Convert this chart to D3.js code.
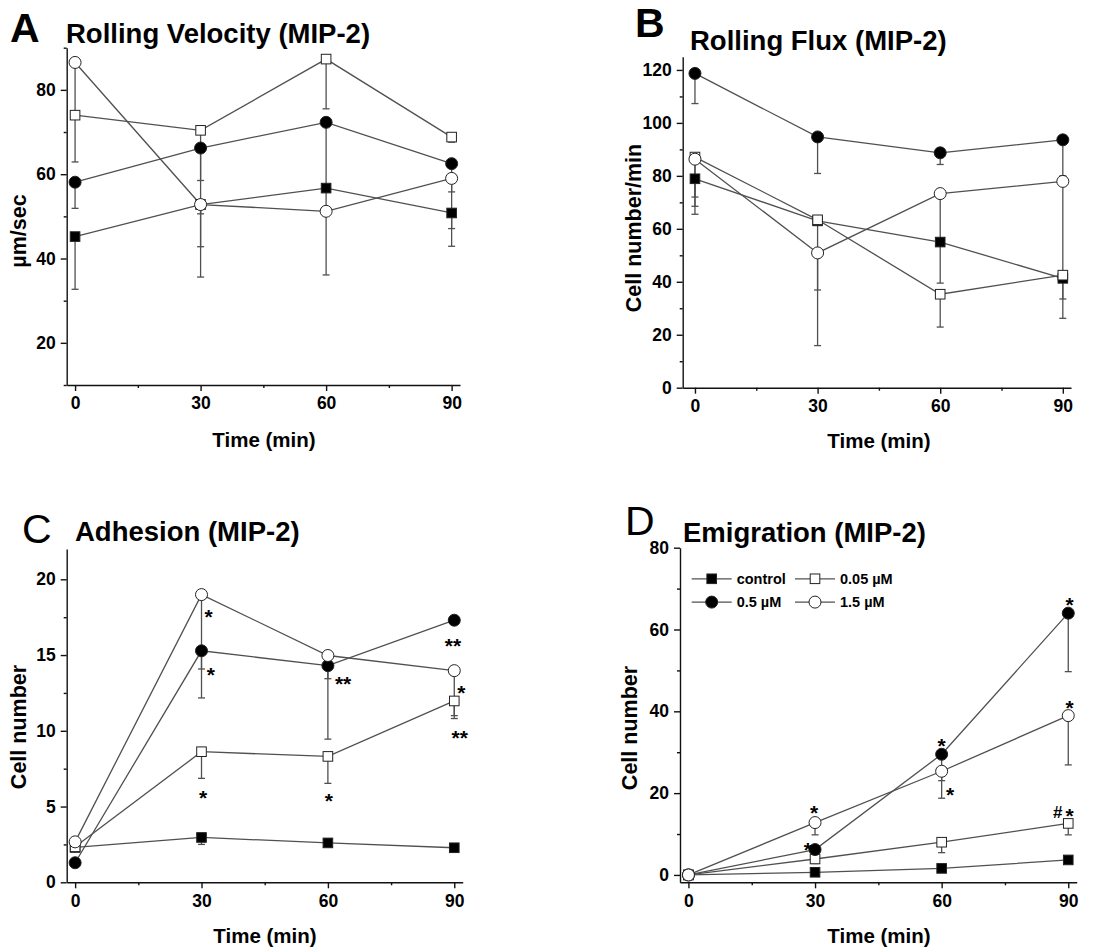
<!DOCTYPE html>
<html>
<head>
<meta charset="utf-8">
<script src="https://cdn.jsdelivr.net/npm/d3@7"></script>
<style>
  body { margin: 0; background: #fff; }
  svg text { font-family: "Liberation Sans", Arial, Helvetica, sans-serif; }
</style>
</head>
<body>
<svg id="fig" width="1110" height="951"></svg>
<script>
// ---- data -------------------------------------------------------------
const times = [0, 30, 60, 90];
const seriesNames = ["control", "0.05 µM", "0.5 µM", "1.5 µM"];
const seriesSymbols = ["filledSquare", "openSquare", "filledCircle", "openCircle"];

// A: rolling velocity (µm/sec); *Lo = lower end of the error bar
const velControl = [45.2, 52.8, 56.7, 50.8];
const velLow     = [74.0, 70.4, 87.3, 68.8];
const velMid     = [58.1, 66.2, 72.3, 62.5];
const velHigh    = [86.5, 52.8, 51.2, 59.0];
const velControlLo = [32.7, 50.6, null, 42.9];
const velLowLo     = [null, 58.5, 75.5, 67.6];
const velMidLo     = [51.9, 42.8, 36.1, 55.8];
const velHighLo    = [62.9, 35.6, null, 47.1];

// B: rolling flux (cells/min)
const fluxControl = [78.9, 63.0, 55.0, 41.3];
const fluxLow     = [87.1, 63.4, 35.3, 42.5];
const fluxMid     = [118.7, 94.7, 88.7, 93.6];
const fluxHigh    = [86.3, 50.9, 73.3, 77.9];
const fluxControlLo = [68.5, null, null, null];
const fluxLowLo     = [72.0, 36.9, 22.9, 33.5];
const fluxMidLo     = [107.3, 80.9, 84.3, 80.0];
const fluxHighLo    = [65.5, 15.9, 39.5, 26.2];

// C: adherent cells
const adhControl = [2.30, 2.96, 2.60, 2.28];
const adhLow     = [2.34, 8.62, 8.31, 11.97];
const adhMid     = [1.29, 15.28, 14.30, 17.30];
const adhHigh    = [2.67, 18.99, 14.97, 13.97];
const adhControlLo = [null, 2.5, null, null];
const adhLowLo     = [null, 6.86, 6.53, 10.81];
const adhMidLo     = [null, 12.17, 9.45, null];
const adhHighLo    = [null, 14.08, 13.44, 11.0];

// D: emigrated cells
const emiControl = [0, 0.65, 1.6, 3.67];
const emiLow     = [0, 3.9, 8.0, 12.6];
const emiMid     = [0, 6.2, 29.5, 64.0];
const emiHigh    = [0, 12.8, 25.35, 38.95];
const emiControlLo = [null, null, null, null];
const emiLowLo     = [null, 2.8, 5.45, 9.8];
const emiMidLo     = [null, null, 23.05, 49.7];
const emiHighLo    = [null, 9.8, 18.75, 26.9];

// significance marks (placed in data units)
const adhMarks = [
  { t: 31.7, v: 17.8, s: "*" }, { t: 32.2, v: 13.97, s: "*" }, { t: 30.4, v: 5.86, s: "*" },
  { t: 63.6, v: 13.38, s: "**" }, { t: 60.2, v: 5.70, s: "*" },
  { t: 89.7, v: 15.94, s: "**" }, { t: 91.7, v: 12.83, s: "*" }, { t: 91.3, v: 9.87, s: "**" }
];
const emiMarks = [
  { t: 29.8, v: 16.3, s: "*" }, { t: 28.3, v: 7.3, s: "*" },
  { t: 60.0, v: 32.6, s: "*" }, { t: 62.0, v: 20.8, s: "*" },
  { t: 90.3, v: 67.2, s: "*" }, { t: 90.3, v: 42.0, s: "*" },
  { t: 87.5, v: 15.5, s: "#" }, { t: 90.3, v: 15.5, s: "*" }
];

// tick values
const xTicks = [0, 30, 60, 90];
const xMinor = [15, 45, 75];
const velTicks = [20, 40, 60, 80];
const velMinor = [10, 30, 50, 70, 90];
const fluxTicks = [0, 20, 40, 60, 80, 100, 120];
const fluxMinor = [10, 30, 50, 70, 90, 110];
const adhTicks = [0, 5, 10, 15, 20];
const adhMinor = [2.5, 7.5, 12.5, 17.5];
const emiTicks = [0, 20, 40, 60, 80];
const emiMinor = [10, 30, 50, 70];

// ---- drawing ----------------------------------------------------------
const svg = d3.select("#fig");
const LINE = "#505050";
const INK = "#111";

const panels = [
  {
    letter: "A", letterBold: true, letterPos: [10, 42],
    title: "Rolling Velocity (MIP-2)", titlePos: [66, 43],
    ylabel: "µm/sec", ylabelPos: [26, 231], xlabelPos: [264, 447],
    box: { l: 66.7, r: 460, t: 47.7, b: 385 },
    xDomain: [-2, 92], yDomain: [10, 90], yTicks: velTicks, yMinor: velMinor,
    values: [velControl, velLow, velMid, velHigh],
    lows: [velControlLo, velLowLo, velMidLo, velHighLo]
  },
  {
    letter: "B", letterBold: true, letterPos: [635, 37],
    title: "Rolling Flux (MIP-2)", titlePos: [690, 50],
    ylabel: "Cell number/min", ylabelPos: [641, 228], xlabelPos: [879, 448],
    box: { l: 682.7, r: 1071, t: 56.7, b: 387.7 },
    xDomain: [-3, 92], yDomain: [0, 125], yTicks: fluxTicks, yMinor: fluxMinor,
    values: [fluxControl, fluxLow, fluxMid, fluxHigh],
    lows: [fluxControlLo, fluxLowLo, fluxMidLo, fluxHighLo]
  },
  {
    letter: "C", letterBold: false, letterPos: [22, 543],
    title: "Adhesion (MIP-2)", titlePos: [75, 541],
    ylabel: "Cell number", ylabelPos: [26, 727], xlabelPos: [265, 943],
    box: { l: 66.7, r: 462.7, t: 549, b: 882.3 },
    xDomain: [-2, 92], yDomain: [0, 22], yTicks: adhTicks, yMinor: adhMinor,
    values: [adhControl, adhLow, adhMid, adhHigh],
    lows: [adhControlLo, adhLowLo, adhMidLo, adhHighLo],
    marks: adhMarks
  },
  {
    letter: "D", letterBold: false, letterPos: [625, 535],
    title: "Emigration (MIP-2)", titlePos: [683, 542],
    ylabel: "Cell number", ylabelPos: [637, 728], xlabelPos: [879, 943],
    box: { l: 680, r: 1076.7, t: 547.7, b: 882.3 },
    xDomain: [-2, 92], yDomain: [-1.8, 80], yTicks: emiTicks, yMinor: emiMinor,
    values: [emiControl, emiLow, emiMid, emiHigh],
    lows: [emiControlLo, emiLowLo, emiMidLo, emiHighLo],
    marks: emiMarks, legend: true
  }
];

function drawSymbol(g, kind, cx, cy) {
  const filled = kind.startsWith("filled");
  if (kind.endsWith("Square")) {
    const s = 9.6;
    g.append("rect").attr("x", cx - s / 2).attr("y", cy - s / 2)
      .attr("width", s).attr("height", s)
      .attr("fill", filled ? "#000" : "#fff").attr("stroke", "#222").attr("stroke-width", 1);
  } else {
    g.append("circle").attr("cx", cx).attr("cy", cy).attr("r", 6)
      .attr("fill", filled ? "#000" : "#fff").attr("stroke", "#222").attr("stroke-width", 1);
  }
}

panels.forEach(p => {
  const x = d3.scaleLinear().domain(p.xDomain).range([p.box.l, p.box.r]);
  const y = d3.scaleLinear().domain(p.yDomain).range([p.box.b, p.box.t]);
  const g = svg.append("g");

  // axes
  const xAxis = g.append("g").attr("transform", `translate(0,${p.box.b})`)
    .call(d3.axisBottom(x).tickValues(xTicks).tickSize(6).tickSizeOuter(0).tickPadding(6));
  const xMin = g.append("g").attr("transform", `translate(0,${p.box.b})`)
    .call(d3.axisBottom(x).tickValues(xMinor).tickSize(3).tickSizeOuter(0).tickFormat(""));
  const yAxis = g.append("g").attr("transform", `translate(${p.box.l},0)`)
    .call(d3.axisLeft(y).tickValues(p.yTicks).tickSize(6).tickSizeOuter(0).tickPadding(5));
  const yMin = g.append("g").attr("transform", `translate(${p.box.l},0)`)
    .call(d3.axisLeft(y).tickValues(p.yMinor).tickSize(3).tickSizeOuter(0).tickFormat(""));
  [xMin, yMin].forEach(a => a.select(".domain").remove());
  [xAxis, xMin, yAxis, yMin].forEach(a => {
    a.selectAll("path,line").attr("stroke", INK).attr("stroke-width", 1.4);
    a.selectAll("text").attr("font-size", 17.5).attr("font-weight", "bold").attr("fill", "#000")
      .attr("font-family", '"Liberation Sans", Arial, sans-serif');
  });

  // lines
  const line = d3.line().x((d, i) => x(times[i])).y(d => y(d));
  p.values.forEach(vals => {
    g.append("path").attr("d", line(vals)).attr("fill", "none")
      .attr("stroke", LINE).attr("stroke-width", 1.3);
  });

  // error bars (lower side)
  p.values.forEach((vals, si) => {
    vals.forEach((v, i) => {
      const lo = p.lows[si][i];
      if (lo == null) return;
      const cx = x(times[i]);
      g.append("line").attr("x1", cx).attr("x2", cx).attr("y1", y(v)).attr("y2", y(lo))
        .attr("stroke", LINE).attr("stroke-width", 1.3);
      g.append("line").attr("x1", cx - 3.5).attr("x2", cx + 3.5).attr("y1", y(lo)).attr("y2", y(lo))
        .attr("stroke", LINE).attr("stroke-width", 1.3);
    });
  });

  // markers
  p.values.forEach((vals, si) => {
    vals.forEach((v, i) => drawSymbol(g, seriesSymbols[si], x(times[i]), y(v)));
  });

  // significance marks
  (p.marks || []).forEach(m => {
    const fs = m.s === "#" ? 17 : 21;
    const shift = m.s === "#" ? 0.36 : 0.56;
    g.append("text").attr("x", x(m.t)).attr("y", y(m.v) + shift * fs)
      .attr("text-anchor", "middle").attr("font-size", fs).attr("font-weight", "bold")
      .text(m.s);
  });

  // panel letter and title
  g.append("text").attr("x", p.letterPos[0]).attr("y", p.letterPos[1])
    .attr("font-size", 41).attr("font-weight", p.letterBold ? "bold" : "normal").text(p.letter);
  g.append("text").attr("x", p.titlePos[0]).attr("y", p.titlePos[1])
    .attr("font-size", 27.5).attr("font-weight", "bold").text(p.title);

  // axis titles
  g.append("text").attr("x", p.xlabelPos[0]).attr("y", p.xlabelPos[1])
    .attr("text-anchor", "middle").attr("font-size", 20.5).attr("font-weight", "bold").text("Time (min)");
  g.append("text").attr("transform", `translate(${p.ylabelPos[0]},${p.ylabelPos[1]}) rotate(-90)`)
    .attr("text-anchor", "middle").attr("font-size", 21.5).attr("font-weight", "bold").text(p.ylabel);

  // legend
  if (p.legend) {
    const rows = [[0, 1], [2, 3]];
    const colX = [p.box.l + 11.7, p.box.l + 115];
    const rowY = [y(72.4), y(66.7)];
    rows.forEach((r, ri) => r.forEach((si, ci) => {
      const x0 = colX[ci], yy = rowY[ri];
      const lg = g.append("g");
      lg.append("line").attr("x1", x0).attr("x2", x0 + 40).attr("y1", yy).attr("y2", yy)
        .attr("stroke", LINE).attr("stroke-width", 1.3);
      drawSymbol(lg, seriesSymbols[si], x0 + 20, yy);
      lg.append("text").attr("x", x0 + 45).attr("y", yy + 5.2)
        .attr("font-size", 14.5).attr("font-weight", "bold").text(seriesNames[si]);
    }));
  }
});
</script>
</body>
</html>
